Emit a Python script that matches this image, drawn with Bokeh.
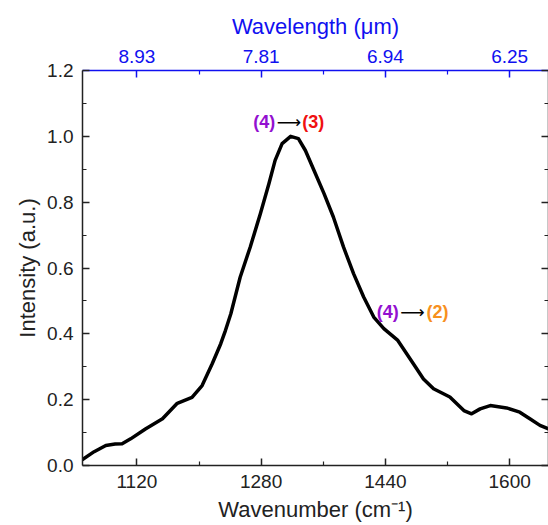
from bokeh.plotting import figure
from bokeh.models import (LinearAxis, FixedTicker, NumeralTickFormatter,
                          CustomJSTickFormatter, Range1d)
from bokeh.core.properties import value
from bokeh.embed import file_html
from bokeh.resources import INLINE

# ---- data ----
wavenumber = [1050, 1065, 1080, 1092, 1101, 1112, 1131, 1153, 1172, 1191,
              1204, 1217, 1228, 1234, 1241, 1253, 1266, 1279, 1290, 1298,
              1307, 1318, 1328, 1337, 1348, 1361, 1373, 1386, 1399, 1412,
              1425, 1438, 1456, 1476, 1489, 1502, 1523, 1541, 1551, 1562,
              1575, 1596, 1613, 1626, 1639, 1650]
intensity = [0.018, 0.042, 0.061, 0.065, 0.066, 0.081, 0.111, 0.142, 0.189, 0.207,
             0.243, 0.309, 0.37, 0.41, 0.461, 0.572, 0.664, 0.765, 0.856, 0.927,
             0.978, 1.0, 0.993, 0.957, 0.897, 0.826, 0.755, 0.664, 0.583, 0.512,
             0.451, 0.416, 0.38, 0.309, 0.263, 0.233, 0.208, 0.167, 0.157, 0.172,
             0.182, 0.175, 0.162, 0.142, 0.122, 0.111]

x_major = [1120, 1280, 1440, 1600]
x_minor = [1200, 1360, 1520]
y_major = [0.0, 0.2, 0.4, 0.6, 0.8, 1.0, 1.2]
y_minor = [0.1, 0.3, 0.5, 0.7, 0.9, 1.1]

FONT = "Liberation Sans"
BLUE = "#1010F0"
PURPLE = "#9310D0"
RED = "#F01010"
ORANGE = "#F7901E"

p = figure(frame_width=466, frame_height=395, output_backend="svg",
           toolbar_location=None, x_range=Range1d(1050, 1650),
           y_range=Range1d(0, 1.2), x_axis_location=None, y_axis_location=None,
           min_border_left=82, min_border_right=0, min_border_top=70,
           min_border_bottom=60)
p.outline_line_color = None
p.xgrid.visible = False
p.ygrid.visible = False
p.background_fill_color = "white"
p.border_fill_color = "white"


def style(ax, color="#222222"):
    ax.axis_line_color = color
    ax.axis_line_width = 1.5
    ax.major_tick_line_color = color
    ax.minor_tick_line_color = color
    ax.major_tick_line_width = 1.5
    ax.minor_tick_line_width = 1.2
    ax.major_tick_in = 7
    ax.major_tick_out = 0
    ax.minor_tick_in = 4
    ax.minor_tick_out = 0
    ax.major_label_text_font = FONT
    ax.major_label_text_font_size = "19px"
    ax.major_label_text_color = color
    ax.axis_label_text_font = FONT
    ax.axis_label_text_font_size = "22px"
    ax.axis_label_text_font_style = "normal"
    ax.axis_label_text_color = color


xb = LinearAxis(ticker=FixedTicker(ticks=x_major, minor_ticks=x_minor),
                axis_label="Wavenumber (cm⁻¹)")
style(xb)
xb.major_label_standoff = 9
xb.axis_label_standoff = 6
p.add_layout(xb, "below")

xt = LinearAxis(ticker=FixedTicker(ticks=x_major, minor_ticks=x_minor),
                axis_label="Wavelength (μm)",
                formatter=CustomJSTickFormatter(code="return (10000/tick).toFixed(2);"))
style(xt, BLUE)
xt.major_label_standoff = 8
xt.axis_label_standoff = 8
p.add_layout(xt, "above")

yl = LinearAxis(ticker=FixedTicker(ticks=y_major, minor_ticks=y_minor),
                axis_label="Intensity (a.u.)",
                formatter=NumeralTickFormatter(format="0.0"))
style(yl)
yl.major_label_standoff = 9
yl.axis_label_standoff = 4
p.add_layout(yl, "left")

yr = LinearAxis(ticker=FixedTicker(ticks=y_major, minor_ticks=y_minor),
                formatter=CustomJSTickFormatter(code="return '';"))
style(yr)
yr.major_label_standoff = 0
p.add_layout(yr, "right")

p.line(wavenumber, intensity, line_color="black", line_width=3.5,
       line_join="round", line_cap="round")


# transition labels
def label(x0, xa, x2, y, right_color, right_text):
    p.text(x=[x0], y=[y], text=["(4)"], text_color=PURPLE,
           text_font=value(FONT), text_font_style="bold",
           text_font_size="18px", text_align="left", text_baseline="middle")
    p.text(x=[xa], y=[y], text=["⟶"], text_color="black",
           text_font=value("DejaVu Sans"), text_font_size="17px",
           text_align="left", text_baseline="middle")
    p.text(x=[x2], y=[y], text=[right_text], text_color=right_color,
           text_font=value(FONT), text_font_style="bold",
           text_font_size="18px", text_align="left", text_baseline="middle")


label(1270, 1300, 1333, 1.043, RED, "(3)")
label(1429, 1459, 1493, 0.466, ORANGE, "(2)")

open("out.html", "w").write(file_html(p, INLINE))
